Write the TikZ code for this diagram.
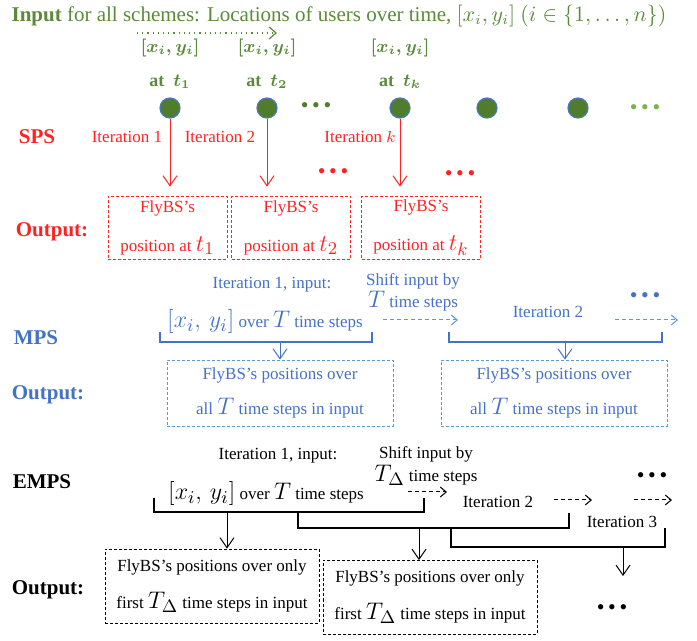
\documentclass[tikz,border=0pt]{standalone}
\usepackage{amsmath}
\usepackage{amssymb}
\usepackage{fontspec}
\setmainfont{Liberation Serif}
\usepackage{tikz}
\usetikzlibrary{arrows.meta,calc,positioning}
\definecolor{ingreen}{HTML}{5A8A3A}
\definecolor{userfill}{HTML}{507D2C}
\definecolor{userrim}{HTML}{4A78B8}
\definecolor{lightgreen}{HTML}{7DB346}
\definecolor{spsred}{HTML}{FF2222}
\definecolor{mpsblue}{HTML}{4472C4}
\definecolor{boxblue}{HTML}{5B9BD5}
\newcommand{\lgm}[1]{{\fontsize{13}{12}\selectfont$#1$}}
\tikzset{
        headline/.style = {text=ingreen, font=\fontsize{10.5}{12}\selectfont, inner sep=0pt},
        loc/.style = {text=ingreen, font=\bfseries\fontsize{9}{10}\selectfont, inner sep=0pt},
        user/.style = {circle, draw=userrim, fill=userfill, line width=0.6pt,
            minimum size=10pt, inner sep=0pt},
        dots/.style = {font=\fontsize{11}{12}\selectfont, inner sep=0pt},
        lbl/.style = {font=\bfseries\fontsize{10.5}{12}\selectfont, inner sep=0pt},
        txt/.style = {font=\fontsize{8.5}{9.5}\selectfont, inner sep=0pt, align=center},
        outbox/.style = {draw, dash pattern=on 1.5pt off 1pt, line width=0.4pt,
            inner sep=0pt, align=center},
        spsbox/.style = {outbox, draw=spsred, text=spsred,
            minimum width=59.5pt, minimum height=31.5pt,
            font=\fontsize{8.5}{19.5}\selectfont},
        mpsbox/.style = {outbox, draw=boxblue, text=mpsblue,
            minimum width=113pt, minimum height=33pt,
            font=\fontsize{8.5}{17.5}\selectfont},
        empsbox/.style = {outbox, draw=black, text=black,
            minimum width=107pt, minimum height=37pt,
            font=\fontsize{8.5}{18.5}\selectfont},
        down/.style = {line width=0.5pt, -{Straight Barb[length=5pt,width=7pt]}},
        shiftarr/.style = {line width=0.5pt, dash pattern=on 2pt off 1.5pt,
            -{Straight Barb[length=3pt,width=5pt]}},
        bracket/.style = {line width=1pt},
    }

\begin{document}
\begin{tikzpicture}[x=0.5pt,y=-0.5pt]
    \useasboundingbox (0,0) rectangle (697,641);

    % user locations, common input
    \node[headline] (inp) at (339,16) {\textbf{Input} for all schemes: Locations of users over time, $[x_i, y_i]$ $(i \in \{1,\ldots,n\})$};
    \coordinate (tl) at (137,33);
    \coordinate (tr) at (277,33);
    \draw[ingreen, line width=0.6pt, dotted, -{Straight Barb[length=3.5pt,width=6pt]}] (tl) -- (tr);

    \foreach \n/\x/\tm in {1/170/t_1, 2/267/t_2, k/400/t_k} {
        \node[loc] (xy\n) at (\x,48) {$\boldsymbol{[x_i,y_i]}$};
        \node[loc] (at\n) at (\x,82) {at\ \ $\boldsymbol{\tm}$};
    }
    \foreach \n/\x in {1/170, 2/267, k/400, 4/487, 5/578}
        \node[user] (u\n) at (\x,108) {};
    \node[dots, text=userfill] (udots) at (316,108) {•\,•\,•};
    \node[dots, text=lightgreen] (umore) at (645,110) {•\,•\,•};

    % SPS
    \node[lbl, text=spsred] (sps) at (37,137) {SPS};
    \node[txt, text=spsred] (it1) at (127,137) {Iteration 1};
    \node[txt, text=spsred] (it2) at (220,137) {Iteration 2};
    \node[txt, text=spsred] (itk) at (360,137) {Iteration $k$};
    \node[dots, text=spsred] (sdots1) at (333,174) {•\,•\,•};
    \node[dots, text=spsred] (sdots2) at (460,176) {•\,•\,•};

    \node[lbl, text=spsred] (sout) at (52,232) {Output:};
    \node[spsbox] (so1) at (167.5,227.5) {FlyBS’s\\position at \lgm{t_1}};
    \node[spsbox] (so2) at (291,227.5) {FlyBS’s\\position at \lgm{t_2}};
    \node[spsbox] (sok) at (421,227.5) {FlyBS’s\\position at \lgm{t_k}};

    \foreach \n in {1,2,k}
        \draw[down, spsred, shorten >=4.5pt] (u\n) -- (u\n |- so\n.north);

    % MPS
    \node[lbl, text=mpsblue] (mps) at (36,338) {MPS};
    \node[txt, text=mpsblue] (m1in) at (272,285) {Iteration 1, input:};
    \node[txt, text=mpsblue] (mshift) at (413,292) {Shift input by\\\lgm{T} time steps};
    \node[txt, text=mpsblue] (mwin) at (265,322) {\lgm{[x_i,\,y_i]} over \lgm{T} time steps};
    \node[txt, text=mpsblue] (m2it) at (548,312) {Iteration 2};
    \node[dots, text=mpsblue] (mdots) at (645,298) {•\,•\,•};

    \coordinate (ma1) at (383,320);
    \coordinate (mb1) at (458,320);
    \coordinate (ma2) at (615,320);
    \coordinate (mb2) at (678,320);
    \draw[shiftarr, boxblue] (ma1) -- (mb1);
    \draw[shiftarr, boxblue] (ma2) -- (mb2);

    \coordinate (m1l) at (160,332);
    \coordinate (m1r) at (372,332);
    \coordinate (m2l) at (449,332);
    \coordinate (m2r) at (662,332);
    \draw[bracket, mpsblue] (m1l) -- ++(0,10) -| (m1r);
    \draw[bracket, mpsblue] (m2l) -- ++(0,10) -| (m2r);
    \coordinate (m1c) at (280,342);
    \coordinate (m2c) at (565,342);

    \node[lbl, text=mpsblue] (mout) at (48,395) {Output:};
    \node[mpsbox] (mo1) at (280,393) {FlyBS’s positions over\\all \lgm{T} time steps in input};
    \node[mpsbox] (mo2) at (554,393) {FlyBS’s positions over\\all \lgm{T} time steps in input};
    \draw[down, mpsblue] (m1c) -- (m1c |- mo1.north);
    \draw[down, mpsblue] (m2c) -- (m2c |- mo2.north);

    % EMPS
    \node[lbl] (emps) at (42,482) {EMPS};
    \node[txt] (e1in) at (278,456) {Iteration 1, input:};
    \node[txt] (eshift) at (426,466) {Shift input by\\\lgm{T_\Delta} time steps};
    \node[txt] (ewin) at (266,494) {\lgm{[x_i,\,y_i]} over \lgm{T} time steps};
    \node[txt] (e2it) at (498,502) {Iteration 2};
    \node[txt] (e3it) at (622,522) {Iteration 3};
    \node[dots] (edots) at (652,478) {•\,•\,•};

    \coordinate (ea1) at (408,492);
    \coordinate (eb1) at (447,492);
    \coordinate (ea2) at (554,500);
    \coordinate (eb2) at (592,500);
    \coordinate (ea3) at (634,500);
    \coordinate (eb3) at (672,500);
    \draw[shiftarr] (ea1) -- (eb1);
    \draw[shiftarr] (ea2) -- (eb2);
    \draw[shiftarr] (ea3) -- (eb3);

    \coordinate (e1l) at (154,498);
    \coordinate (e1r) at (424,498);
    \coordinate (e2l) at (298,512);
    \coordinate (e2r) at (569,513);
    \coordinate (e3l) at (451,528);
    \coordinate (e3r) at (665,528);
    \draw[bracket] (e1l) -- ++(0,14) -| (e1r);
    \draw[bracket] (e2l) -- ++(0,16) -| (e2r);
    \draw[bracket] (e3l) -- ++(0,19) -| (e3r);
    \coordinate (e1c) at (227,512);
    \coordinate (e2c) at (419,528);
    \coordinate (e3c) at (623,547);
    \coordinate (e3e) at (623,576);

    \node[lbl] (eout) at (48,590) {Output:};
    \node[empsbox] (eo1) at (212,586) {FlyBS’s positions over only\\first \lgm{T_\Delta} time steps in input};
    \node[empsbox] (eo2) at (430,597.5) {FlyBS’s positions over only\\first \lgm{T_\Delta} time steps in input};
    \node[dots] (eodots) at (612,610) {•\,•\,•};
    \draw[down] (e1c) -- (e1c |- eo1.north);
    \draw[down] (e2c) -- (e2c |- eo2.north);
    \draw[down] (e3c) -- (e3e);
\end{tikzpicture}
\end{document}
